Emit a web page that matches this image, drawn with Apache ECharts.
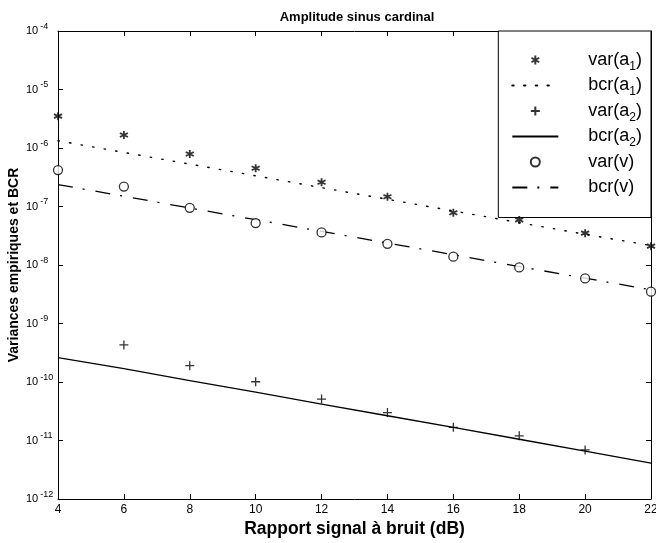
<!DOCTYPE html>
<html>
<head>
<meta charset="utf-8">
<script src="https://cdn.jsdelivr.net/npm/echarts@6/dist/echarts.min.js"></script>
<style>
html,body{margin:0;padding:0;background:#fff;}
#chart{width:656px;height:543px;}
</style>
</head>
<body>
<div id="chart"></div>
<script>
const snr = [4, 6, 8, 10, 12, 14, 16, 18, 20, 22];
const varA1 = [3.5e-6, 1.67e-6, 7.9e-7, 4.5e-7, 2.6e-7, 1.47e-7, 7.8e-8, 5.9e-8, 3.5e-8, 2.1e-8];
const bcrA1 = [1.33e-6, 8.4e-7, 5.3e-7, 3.35e-7, 2.1e-7, 1.33e-7, 8.4e-8, 5.3e-8, 3.35e-8, 2.15e-8];
const varA2 = [null, 4.3e-10, 1.9e-10, 1.01e-10, 5.1e-11, 3.0e-11, 1.68e-11, 1.2e-11, 6.9e-12, null];
const bcrA2 = [2.6e-10, 1.7e-10, 1.06e-10, 6.7e-11, 4.2e-11, 2.65e-11, 1.68e-11, 1.05e-11, 6.6e-12, 4.1e-12];
const varV = [4.2e-7, 2.19e-7, 9.5e-8, 5.2e-8, 3.6e-8, 2.3e-8, 1.39e-8, 9.1e-9, 5.9e-9, 3.5e-9];
const bcrV = [2.37e-7, 1.5e-7, 9.4e-8, 5.96e-8, 3.76e-8, 2.37e-8, 1.5e-8, 9.4e-9, 5.96e-9, 3.76e-9];
const seriesNames = ['var(a1)', 'bcr(a1)', 'var(a2)', 'bcr(a2)', 'var(v)', 'bcr(v)'];
const titleText = 'Amplitude sinus cardinal';
const xName = 'Rapport signal à bruit (dB)';
const yName = 'Variances empiriques et BCR';

function pairs(ys) {
  const out = [];
  snr.forEach((x, i) => { if (ys[i] != null) out.push([x, ys[i]]); });
  return out;
}

const FONT = '"Liberation Sans", Arial, Helvetica, sans-serif';
const STAR = 'path://M0,-5L0,5M-4.33,-2.5L4.33,2.5M-4.33,2.5L4.33,-2.5';
const PLUS = 'path://M-5,0L5,0M0,-5L0,5';

const chart = echarts.init(document.getElementById('chart'), null, {renderer: 'canvas'});

const supLabel = {
  show: true,
  align: 'left',
  margin: 32,
  fontFamily: FONT,
  formatter: function (v) {
    const e = Math.round(Math.log10(v));
    return '{b|10}{s|' + e + '}';
  },
  rich: {
    b: {fontSize: 11, lineHeight: 18, color: '#000', fontFamily: FONT},
    s: {fontSize: 9, lineHeight: 9, verticalAlign: 'top', color: '#000', fontFamily: FONT, padding: [0, 0, 0, 2]}
  }
};

const legendData = seriesNames.map(function (n, i) {
  return i % 2 === 1 ? {name: n, itemStyle: {opacity: 0}} : {name: n};
});

const option = {
  backgroundColor: '#fff',
  animation: false,
  title: {
    text: titleText,
    left: 352,
    top: 6,
    textAlign: 'center',
    textStyle: {fontFamily: FONT, fontSize: 13, fontWeight: 'bold', color: '#000'}
  },
  grid: {left: 58, right: 5, top: 31, bottom: 44, containLabel: false, outerBoundsMode: 'none'},
  legend: {
    data: legendData,
    orient: 'vertical',
    right: 5,
    top: 31,
    backgroundColor: '#fff',
    borderColor: '#000',
    borderWidth: 1,
    padding: [16.5, 9, 17.5, 13],
    itemWidth: 46,
    itemHeight: 9,
    itemGap: 0.5,
    selectedMode: false,
    textStyle: {
      fontFamily: FONT, fontSize: 18, color: '#000', lineHeight: 25,
      padding: [0, 0, 0, 25],
      rich: {
        s: {fontSize: 12, lineHeight: 10, verticalAlign: 'bottom', fontFamily: FONT, color: '#000'}
      }
    },
    formatter: function (name) {
      return name.replace(/\(a(\d)\)/, '(a{s|$1})');
    }
  },
  xAxis: [{
    type: 'value', min: 4, max: 22, interval: 2,
    position: 'bottom',
    name: xName, nameLocation: 'middle', nameGap: 21, nameMoveOverlap: false,
    nameTextStyle: {fontFamily: FONT, fontSize: 17.5, fontWeight: 'bold', color: '#000'},
    axisLine: {show: true, lineStyle: {color: '#000', width: 1}},
    axisTick: {show: true, inside: true, length: 5, lineStyle: {color: '#000'}},
    axisLabel: {fontFamily: FONT, fontSize: 12, color: '#000', margin: 5},
    splitLine: {show: false}
  }, {
    type: 'value', min: 4, max: 22, interval: 2,
    position: 'top',
    axisLine: {show: true, lineStyle: {color: '#000', width: 1}},
    axisTick: {show: true, inside: true, length: 5, lineStyle: {color: '#000'}},
    axisLabel: {show: false},
    splitLine: {show: false}
  }],
  yAxis: [{
    type: 'log', logBase: 10, min: 1e-12, max: 1e-4,
    position: 'left',
    name: yName, nameLocation: 'middle', nameGap: 37, nameRotate: 90, nameMoveOverlap: false,
    nameTextStyle: {fontFamily: FONT, fontSize: 14, fontWeight: 'bold', color: '#000'},
    axisLine: {show: true, lineStyle: {color: '#000', width: 1}},
    axisTick: {show: true, inside: true, length: 5, lineStyle: {color: '#000'}},
    axisLabel: supLabel,
    splitLine: {show: false},
    minorTick: {show: false}
  }, {
    type: 'log', logBase: 10, min: 1e-12, max: 1e-4,
    position: 'right',
    axisLine: {show: true, lineStyle: {color: '#000', width: 1}},
    axisTick: {show: true, inside: true, length: 5, lineStyle: {color: '#000'}},
    axisLabel: {show: false},
    splitLine: {show: false}
  }],
  series: [
    {
      name: seriesNames[0], type: 'scatter', data: pairs(varA1),
      symbol: STAR, symbolSize: 8, z: 5,
      itemStyle: {color: 'none', borderColor: '#000', borderWidth: 1.8}
    },
    {
      name: seriesNames[1], type: 'line', data: pairs(bcrA1),
      symbol: 'none', showSymbol: false,
      lineStyle: {color: '#000', width: 1.4, type: [1.4, 10.3], cap: 'round'},
      itemStyle: {color: '#000'}
    },
    {
      name: seriesNames[2], type: 'scatter', data: pairs(varA2),
      symbol: PLUS, symbolSize: 9, z: 5,
      itemStyle: {color: 'none', borderColor: '#000', borderWidth: 1.3}
    },
    {
      name: seriesNames[3], type: 'line', data: pairs(bcrA2),
      symbol: 'none', showSymbol: false,
      lineStyle: {color: '#000', width: 1.3, type: 'solid'},
      itemStyle: {color: '#000'}
    },
    {
      name: seriesNames[4], type: 'scatter', data: pairs(varV),
      symbol: 'circle', symbolSize: 9, z: 5,
      itemStyle: {color: '#fff', borderColor: '#000', borderWidth: 1.3}
    },
    {
      name: seriesNames[5], type: 'line', data: pairs(bcrV),
      symbol: 'none', showSymbol: false,
      lineStyle: {color: '#000', width: 1.3, type: [15, 10, 2, 11]},
      itemStyle: {color: '#000'}
    }
  ]
};
chart.setOption(option);
</script>
</body>
</html>
